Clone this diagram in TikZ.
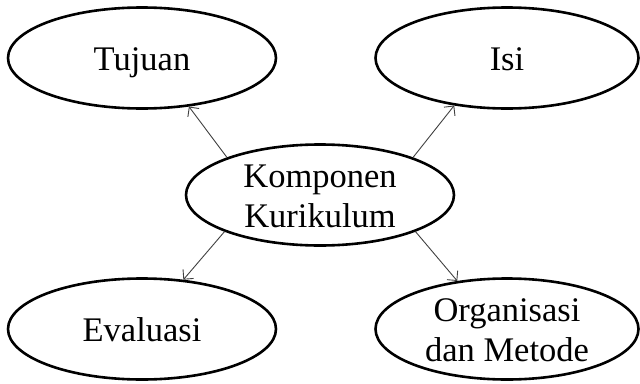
\documentclass[tikz,border=0pt]{standalone}
\usepackage{fontspec}
\setmainfont{Liberation Serif}
\usetikzlibrary{shapes.geometric,arrows.meta}
\begin{document}
\begin{tikzpicture}[x=1pt,y=-1pt,
  topic/.style={ellipse,draw=black,line width=2.6pt,inner sep=0pt,
    minimum width=268pt,minimum height=101pt,align=center,
    text height=24pt,text depth=0pt,
    font=\fontsize{34.5}{40}\selectfont},
  twoline/.style={text height=64pt},
  link/.style={draw=black!75,line width=0.9pt,
    -{Straight Barb[length=7pt,width=14pt,line width=0.9pt]}}]
\useasboundingbox (0,0) rectangle (640,383);
\node[topic,twoline] (kk) at (320,195) {Komponen\\Kurikulum};
\node[topic] (tj) at (142,58) {Tujuan};
\node[topic,minimum width=263pt] (isi) at (507,58) {Isi};
\node[topic] (ev) at (142,329) {Evaluasi};
\node[topic,twoline,minimum width=263pt] (om) at (507,329) {Organisasi\\dan Metode};
\draw[link] (kk.158) -- (tj.-46);
\draw[link] (kk.22) -- (isi.-138);
\draw[link] (kk.-159) -- (ev.50);
\draw[link] (kk.-21) -- (om.136);
\end{tikzpicture}
\end{document}
